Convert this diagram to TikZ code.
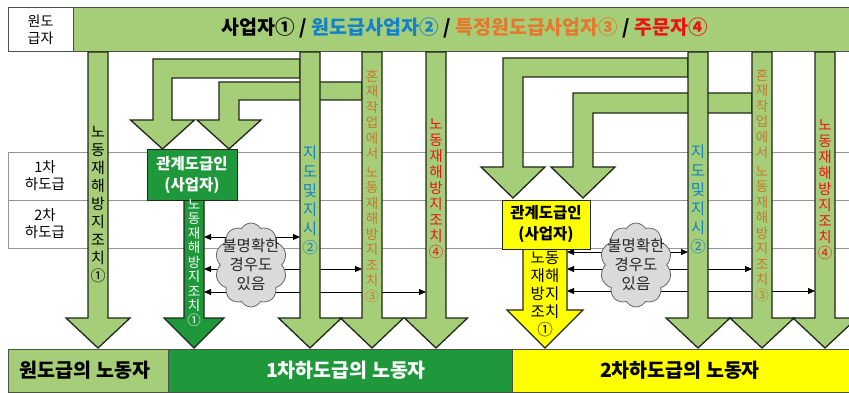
\documentclass[tikz,border=0pt]{standalone}
\usepackage{fontspec}
\newfontfamily\kr{Noto Sans CJK KR}
\usetikzlibrary{shapes.symbols,arrows.meta}
\definecolor{lg}{RGB}{166,206,120}
\definecolor{dg}{RGB}{30,152,58}
\definecolor{yl}{RGB}{255,255,0}
\definecolor{bl}{RGB}{20,130,200}
\definecolor{ornge}{RGB}{228,122,48}
\definecolor{orv}{RGB}{200,118,50}
\definecolor{rd}{RGB}{235,20,20}
\definecolor{gl}{RGB}{150,150,150}
\definecolor{cg}{RGB}{218,218,218}
\definecolor{edge}{RGB}{30,40,25}
\newcommand\fs[2]{\fontsize{#1}{#2}\selectfont}
% vertical arrow: x1 x2 ytop yhead halfwidth ytip fill
\newcommand\myvarrow[7]{\filldraw[fill=#7,arrowline] (#1,#3) -- (#1,#4) -- ({(#1+#2)/2-#5},#4) -- ({(#1+#2)/2},#6) -- ({(#1+#2)/2+#5},#4) -- (#2,#4) -- (#2,#3) -- cycle;}
% bent arrow: xr yt yb xl xi yh hw ytip
\newcommand\mybent[8]{\filldraw[fill=lg,arrowline] (#1,#2) -- (#4,#2) -- (#4,#6) -- ({(#4+#5)/2-#7},#6) -- ({(#4+#5)/2},#8) -- ({(#4+#5)/2+#7},#6) -- (#5,#6) -- (#5,#3) -- (#1,#3) -- cycle;}
\tikzset{
  arrowline/.style={draw=edge,line width=1.3pt,line join=miter},
  vtext/.style={inner sep=0pt,align=center},
  gridline/.style={draw=gl,line width=0.8pt},
  dbl/.style={draw=black,line width=0.8pt,{Triangle[length=7pt,width=6pt]}-{Triangle[length=7pt,width=6pt]}},
  cloudshape/.style={cloud,cloud puffs=10,cloud puff arc=120,aspect=0.9,draw=black!60,line width=0.8pt,fill=cg,minimum width=72pt,minimum height=84pt,inner sep=0pt},
  cloudtext/.style={inner sep=0pt,align=center,font=\kr\fs{15.5}{19},text=black!85},
  barbox/.style={draw=edge!80,line width=1pt,inner sep=0pt},
}
\begin{document}
\begin{tikzpicture}[x=1pt,y=-1pt]
\useasboundingbox (0,0) rectangle (849,393);
% grid lines
\draw[gridline] (8,152) -- (849,152);
\draw[gridline] (8,200) -- (849,200);
\draw[gridline] (8,248) -- (849,248);
\draw[gridline] (8,152) -- (8,248);
\node[vtext,font=\kr\fs{14.5}{17}] (row1) at (45,176) {1차\\하도급};
\node[vtext,font=\kr\fs{14.5}{17}] (row2) at (45,224) {2차\\하도급};
% top bar
\node[barbox,fill=white,minimum width=65pt,minimum height=44pt] (hdr) at (40.5,30) {};
\node[vtext,font=\kr\fs{14}{17}] (hdrt) at (hdr) {원도\\급자};
\node[barbox,fill=lg,minimum width=779pt,minimum height=44pt] (topbar) at (462.5,30) {};
\node[inner sep=0pt,font=\kr\bfseries\fs{19.5}{22}] (title) at (465,28) {사업자① / \textcolor{bl}{원도급사업자②} / \textcolor{ornge}{특정원도급사업자③} / \textcolor{rd}{주문자④}};
% double arrows (left)
\coordinate (la1) at (204,237); \coordinate (lb1) at (300,237);
\coordinate (la2) at (204,269); \coordinate (lb2) at (362,269);
\coordinate (la3) at (204,292); \coordinate (lb3) at (426,292);
\draw[dbl] (la1) -- (lb1);
\draw[dbl] (la2) -- (lb2);
\draw[dbl] (la3) -- (lb3);
% double arrows (right)
\coordinate (ra1) at (567,252); \coordinate (rb1) at (688,252);
\coordinate (ra2) at (567,269); \coordinate (rb2) at (752,269);
\coordinate (ra3) at (567,291); \coordinate (rb3) at (815,291);
\draw[dbl] (ra1) -- (rb1);
\draw[dbl] (ra2) -- (rb2);
\draw[dbl] (ra3) -- (rb3);
% clouds
\node[cloudshape] (cl) at (251,265) {};
\node[cloudtext] (clt) at (cl) {불명확한\\경우도\\있음};
\node[cloudshape] (cr) at (636,265) {};
\node[cloudtext] (crt) at (cr) {불명확한\\경우도\\있음};
% bent arrows
\mybent{300}{59}{78}{153}{172}{120}{32}{149}
\mybent{362}{82}{100}{219}{239}{120}{32}{149}
\mybent{688}{58}{77}{503}{523}{167}{32}{198}
\mybent{752}{93}{113}{573}{593}{167}{32}{198}
% vertical arrows
\myvarrow{88}{108}{52}{318}{32}{348}{lg}
\myvarrow{300}{320}{52}{318}{31.5}{348}{lg}
\myvarrow{362}{382}{52}{318}{31.5}{348}{lg}
\myvarrow{426}{446}{52}{318}{31.5}{348}{lg}
\myvarrow{688}{708}{52}{318}{32}{348}{lg}
\myvarrow{752}{772}{52}{318}{32}{348}{lg}
\myvarrow{815}{835}{52}{318}{32}{348}{lg}
\myvarrow{184}{204}{200}{318}{30}{348}{dg}
\myvarrow{523}{567}{249}{310}{38}{348}{yl}
% boxes
\node[draw=edge,line width=1pt,fill=dg,minimum width=90pt,minimum height=50pt,inner sep=0pt] (gbox) at (192,175) {};
\node[vtext,font=\kr\bfseries\fs{15.5}{21},text=white] (gboxt) at (gbox) {관계도급인\\(사업자)};
\node[draw=edge,line width=1pt,fill=yl,minimum width=88pt,minimum height=49pt,inner sep=0pt] (ybox) at (546,224.5) {};
\node[vtext,font=\kr\bfseries\fs{15.5}{21}] (yboxt) at (ybox) {관계도급인\\(사업자)};
% vertical texts
\node[vtext,font=\kr\fs{15}{18}] (t1) at (98,205) {노\\동\\재\\해\\방\\지\\조\\치\\①};
\node[vtext,font=\kr\fs{15.5}{19},text=bl] (t2l) at (310,200) {지\\도\\및\\지\\시\\②};
\node[vtext,font=\kr\fs{13.5}{15.5},text=orv] (t3l) at (372,186) {혼\\재\\작\\업\\에\\서\\[3pt]노\\동\\재\\해\\방\\지\\조\\치\\③};
\node[vtext,font=\kr\fs{14.5}{16},text=rd] (t4l) at (436,189) {노\\동\\재\\해\\방\\지\\조\\치\\④};
\node[vtext,font=\kr\fs{15.5}{19},text=bl] (t2r) at (698,199) {지\\도\\및\\지\\시\\②};
\node[vtext,font=\kr\fs{13.5}{15.5},text=orv] (t3r) at (762,185) {혼\\재\\작\\업\\에\\서\\[3pt]노\\동\\재\\해\\방\\지\\조\\치\\③};
\node[vtext,font=\kr\fs{14.5}{16},text=rd] (t4r) at (825,190) {노\\동\\재\\해\\방\\지\\조\\치\\④};
\node[vtext,font=\kr\fs{13.5}{14.5},text=white] (tg) at (194,263) {노\\동\\재\\해\\방\\지\\조\\치\\①};
\node[vtext,font=\kr\fs{15.5}{18}] (ty) at (545,294) {노동\\재해\\방지\\조치\\①};
% bottom bar
\node[barbox,fill=lg,minimum width=160pt,minimum height=43pt] (w0) at (88,370.5) {};
\node[inner sep=0pt,font=\kr\bfseries\fs{19.5}{22}] (w0t) at (85,370.5) {원도급의 노동자};
\node[barbox,fill=dg,minimum width=344pt,minimum height=43pt] (w1) at (340,370.5) {};
\node[inner sep=0pt,font=\kr\bfseries\fs{19.5}{22},text=white] (w1t) at (346,370.5) {1차하도급의 노동자};
\node[barbox,fill=yl,minimum width=342pt,minimum height=43pt] (w2) at (683,370.5) {};
\node[inner sep=0pt,font=\kr\bfseries\fs{19.5}{22}] (w2t) at (680,370.5) {2차하도급의 노동자};
\end{tikzpicture}
\end{document}
